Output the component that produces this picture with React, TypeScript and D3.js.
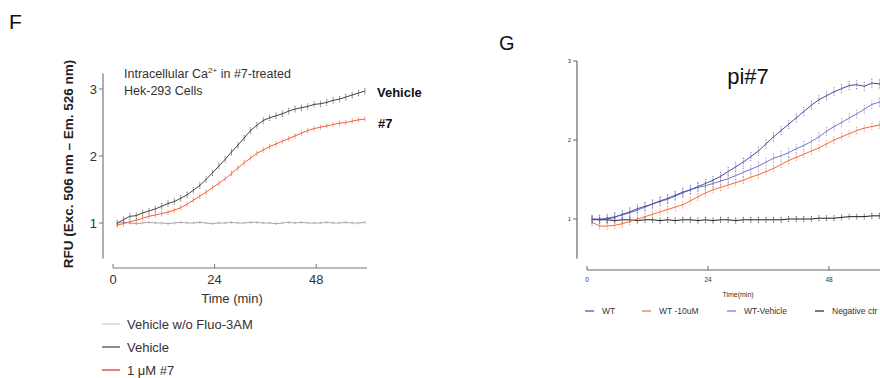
import React from 'react';
import * as d3 from 'd3';

// sampling times (min), shared by both panels
const minutes = [1, 2.5, 4, 5.5, 7, 8.5, 10, 11.5, 13, 14.5, 16, 17.5, 19, 20.5, 22, 23.5, 25, 26.5, 28, 29.5,
    31, 32.5, 34, 35.5, 37, 38.5, 40, 41.5, 43, 44.5, 46, 47.5, 49, 50.5, 52, 53.5, 55, 56.5, 58, 59.5];

// Panel F
const fVehicle = [1.00, 1.05, 1.10, 1.11, 1.15, 1.18, 1.21, 1.25, 1.29, 1.32, 1.37, 1.42, 1.49, 1.56, 1.65, 1.75, 1.85, 1.95, 2.06, 2.16,
    2.27, 2.38, 2.46, 2.53, 2.57, 2.60, 2.63, 2.67, 2.70, 2.72, 2.74, 2.77, 2.78, 2.80, 2.83, 2.85, 2.88, 2.91, 2.94, 2.97];
const fTreated = [0.97, 0.99, 1.02, 1.04, 1.07, 1.10, 1.12, 1.14, 1.16, 1.19, 1.23, 1.28, 1.34, 1.40, 1.46, 1.53, 1.59, 1.66, 1.74, 1.82,
    1.90, 1.97, 2.04, 2.09, 2.14, 2.18, 2.22, 2.26, 2.30, 2.34, 2.38, 2.41, 2.43, 2.45, 2.47, 2.49, 2.50, 2.52, 2.54, 2.55];
const fNoDye = [1.00, 1.01, 1.00, 0.99, 1.00, 1.01, 1.00, 1.00, 0.99, 1.00, 1.01, 1.00, 1.00, 1.01, 1.00, 0.99, 1.00, 1.00, 1.01, 1.00,
    1.00, 1.01, 1.01, 1.00, 1.00, 0.99, 1.00, 1.01, 1.00, 1.01, 1.00, 1.00, 1.00, 1.01, 1.00, 1.00, 1.01, 1.00, 1.00, 1.01];
const fYTicks = [1, 2, 3];
const fXTicks = [0, 24, 48];
const fLegend = ['Vehicle w/o Fluo-3AM', 'Vehicle', '1 \u03bcM #7'];

// Panel G
const gWT = [0.99, 0.99, 1.00, 1.02, 1.06, 1.09, 1.13, 1.16, 1.19, 1.23, 1.26, 1.30, 1.34, 1.37, 1.41, 1.45, 1.49, 1.54, 1.60, 1.66,
    1.72, 1.79, 1.86, 1.95, 2.04, 2.12, 2.20, 2.28, 2.36, 2.44, 2.51, 2.56, 2.61, 2.65, 2.69, 2.70, 2.68, 2.72, 2.71, 2.72];
const gWT10 = [0.96, 0.91, 0.91, 0.92, 0.94, 0.97, 1.00, 1.03, 1.06, 1.09, 1.12, 1.15, 1.18, 1.23, 1.28, 1.33, 1.37, 1.40, 1.43, 1.46,
    1.49, 1.53, 1.56, 1.60, 1.64, 1.69, 1.74, 1.78, 1.82, 1.86, 1.90, 1.95, 2.00, 2.04, 2.08, 2.12, 2.15, 2.17, 2.19, 2.21];
const gWTVehicle = [1.00, 1.00, 1.01, 1.03, 1.05, 1.08, 1.11, 1.15, 1.19, 1.22, 1.25, 1.29, 1.33, 1.37, 1.40, 1.42, 1.45, 1.48, 1.51, 1.55,
    1.59, 1.63, 1.67, 1.72, 1.77, 1.80, 1.84, 1.89, 1.93, 1.98, 2.04, 2.11, 2.17, 2.22, 2.28, 2.33, 2.39, 2.45, 2.48, 2.52];
const gNeg = [1.00, 0.99, 0.99, 0.98, 0.99, 0.99, 0.98, 0.99, 0.99, 0.98, 0.99, 0.98, 0.99, 0.99, 0.98, 0.99, 0.98, 0.99, 0.99, 0.98,
    0.99, 0.99, 0.99, 0.99, 0.99, 0.99, 1.00, 1.00, 1.00, 1.00, 1.01, 1.01, 1.01, 1.02, 1.03, 1.03, 1.03, 1.04, 1.04, 1.04];
const gYTicks = [1, 2, 3];
const gXTicks = [0, 24, 48];
const gLegend = ['WT', 'WT -10uM', 'WT-Vehicle', 'Negative ctr'];

const FONT = 'Liberation Sans, Arial, sans-serif';

const Series = ({ values, x, y, color, spread, width = 1, barWidth = 0.7 }) => {
    const line = d3.line<number>()
        .x((d, i) => x(minutes[i]))
        .y(d => y(d));
    return (
        <g>
            <path d={line(values)} fill="none" stroke={color} strokeWidth={width} />
            {values.map((v, i) => (
                <g key={i} stroke={color} strokeWidth={barWidth}>
                    <line x1={x(minutes[i])} x2={x(minutes[i])} y1={y(v - spread * 0.6)} y2={y(v + spread * 0.6)} />
                    <circle cx={x(minutes[i])} cy={y(v + spread)} r={0.6} fill={color} stroke="none" opacity={0.8} />
                    <circle cx={x(minutes[i])} cy={y(v - spread)} r={0.6} fill={color} stroke="none" opacity={0.8} />
                </g>
            ))}
        </g>
    );
};

const PanelF = () => {
    const x = d3.scaleLinear().domain([0, 60]).range([113, 367]);
    const y = d3.scaleLinear().domain([1, 3]).range([223, 89]);
    const axisColor = '#777';
    return (
        <g fontFamily={FONT}>
            <text x={9} y={29} fontSize={21} fill="#111">F</text>

            {/* y axis */}
            <line x1={103} x2={103} y1={y(3.23)} y2={y(0.47)} stroke={axisColor} strokeWidth={1.2} />
            {fYTicks.map(t => (
                <g key={t}>
                    <line x1={99} x2={103} y1={y(t)} y2={y(t)} stroke={axisColor} />
                    <text x={97} y={y(t) + 4.5} fontSize={13} textAnchor="end" fill="#333">{t}</text>
                </g>
            ))}
            <text transform={`translate(72.5,${164}) rotate(-90)`} fontSize={13.5} fontWeight="bold"
                textAnchor="middle" fill="#222">RFU (Exc. 506 nm – Em. 526 nm)</text>

            {/* x axis */}
            <line x1={x(0)} x2={x(60)} y1={268} y2={268} stroke={axisColor} strokeWidth={1.2} />
            {fXTicks.map(t => (
                <g key={t}>
                    <line x1={x(t)} x2={x(t)} y1={264} y2={268} stroke={axisColor} />
                    <text x={x(t)} y={284} fontSize={13} textAnchor="middle" fill="#333">{t}</text>
                </g>
            ))}
            <text x={232} y={303} fontSize={13} textAnchor="middle" fill="#333">Time  (min)</text>

            <text x={124} y={78} fontSize={12.5} fill="#333">Intracellular  Ca
                <tspan dy={-5} fontSize={8}>2+</tspan><tspan dy={5}> in #7-treated</tspan></text>
            <text x={124} y={95} fontSize={12.5} fill="#333">Hek-293  Cells</text>

            <Series values={fNoDye} x={x} y={y} color="#a9a9a9" spread={0.012} />
            <Series values={fTreated} x={x} y={y} color="#f0603c" spread={0.03} />
            <Series values={fVehicle} x={x} y={y} color="#444" spread={0.04} />

            <text x={377} y={97} fontSize={13} fontWeight="bold" fill="#111">Vehicle</text>
            <text x={378} y={128} fontSize={13} fontWeight="bold" fill="#111">#7</text>

            {fLegend.map((label, i) => (
                <g key={label}>
                    <line x1={102} x2={120} y1={324 + i * 23} y2={324 + i * 23}
                        stroke={['#c8c8c8', '#444', '#e8262a'][i]} strokeWidth={1.2} />
                    <text x={127} y={329 + i * 23} fontSize={13} fill="#333">{label}</text>
                </g>
            ))}
        </g>
    );
};

const PanelG = () => {
    const x = d3.scaleLinear().domain([0, 24]).range([587, 708]);
    const y = d3.scaleLinear().domain([1, 3]).range([219, 61]);
    const axisColor = '#666';
    const colors = ['#4a4c9c', '#f26a3b', '#7276c8', '#222'];
    return (
        <g fontFamily={FONT}>
            <text x={499} y={50} fontSize={20} fill="#111">G</text>
            <text x={748} y={84} fontSize={22} textAnchor="middle" fill="#111">pi#7</text>

            <line x1={577} x2={577} y1={y(3)} y2={y(0.5)} stroke={axisColor} strokeWidth={1.2} />
            {gYTicks.map(t => (
                <g key={t}>
                    <line x1={573} x2={577} y1={y(t)} y2={y(t)} stroke={axisColor} />
                    <text x={571} y={y(t) + 2} fontSize={6} textAnchor="end" fill="#333">{t}</text>
                </g>
            ))}

            <line x1={x(0)} x2={900} y1={270} y2={270} stroke={axisColor} strokeWidth={1.2} />
            {gXTicks.map(t => (
                <g key={t}>
                    <line x1={x(t)} x2={x(t)} y1={266} y2={270} stroke={axisColor} />
                    <text x={x(t)} y={282} fontSize={6.5} textAnchor="middle" fill="#333">{t}</text>
                </g>
            ))}
            <text x={738} y={297} fontSize={7} textAnchor="middle" fill="#333">Time(min)</text>

            <Series values={gNeg} x={x} y={y} color={colors[3]} spread={0.03} barWidth={0.6} />
            <Series values={gWT10} x={x} y={y} color={colors[1]} spread={0.04} barWidth={0.5} />
            <Series values={gWTVehicle} x={x} y={y} color={colors[2]} spread={0.05} barWidth={0.5} />
            <Series values={gWT} x={x} y={y} color={colors[0]} spread={0.05} barWidth={0.5} />

            {gLegend.map((label, i) => {
                const lx = [585, 642, 727, 815][i];
                return (
                    <g key={label}>
                        <line x1={lx} x2={lx + 9} y1={311} y2={311} stroke={colors[i]} strokeWidth={1.2} />
                        <text x={lx + 17} y={314} fontSize={8.5} fill="#333">{label}</text>
                    </g>
                );
            })}
        </g>
    );
};

export default function App() {
    return (
        <svg width={880} height={378} style={{ position: 'absolute', left: 0, top: 0, background: '#fff' }}>
            <rect width={880} height={378} fill="#fff" />
            <PanelF />
            <PanelG />
        </svg>
    );
}
